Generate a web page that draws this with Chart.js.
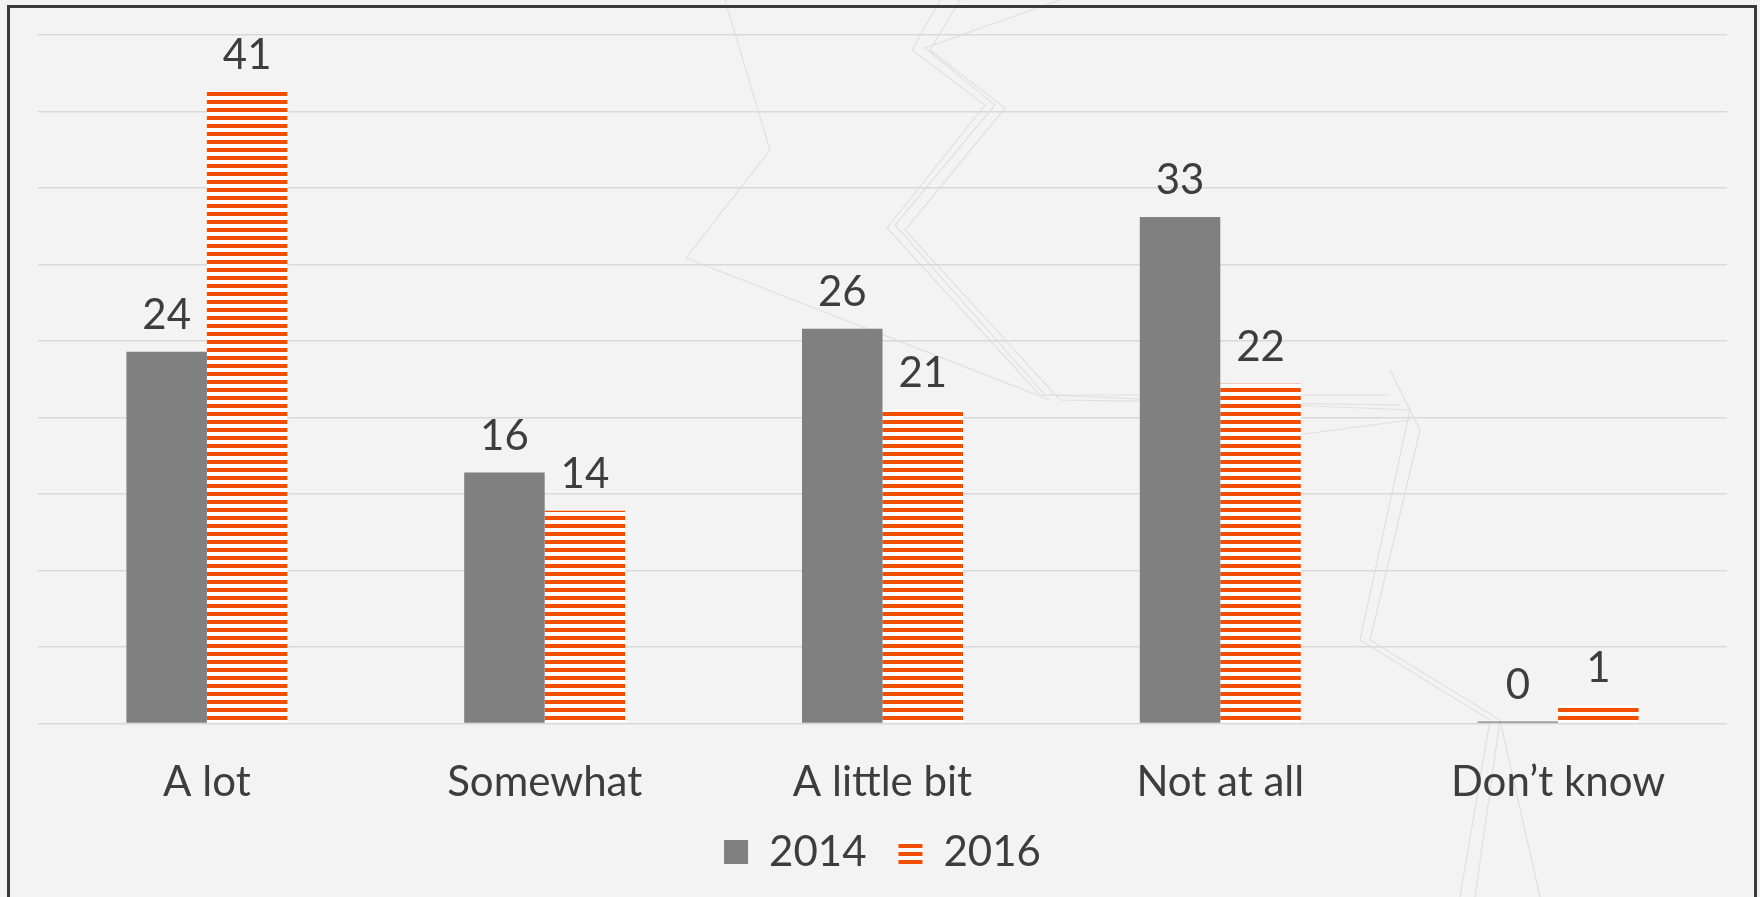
<!DOCTYPE html>
<html><head><meta charset="utf-8">
<script src="https://cdn.jsdelivr.net/npm/chart.js@4.4.0/dist/chart.umd.min.js"></script>
<style>
html,body{margin:0;padding:0;background:#f3f3f3;width:1760px;height:897px;overflow:hidden}
#deco{position:absolute;left:0;top:0}
#frame{position:absolute;left:7px;top:5px;width:1750px;height:1000px;border:3px solid #3a3a3a;box-sizing:border-box}
#wrap{position:absolute;left:0;top:0;width:1760px;height:897px}
</style></head><body>
<svg id="deco" width="1760" height="897" fill="none" stroke="#e0e0e0" stroke-width="1.2">
<polyline points="725,0 770,150 686,258 1050,400"/>
<polyline points="940,0 912,50 985,105 887,228 1040,395 1390,395"/>
<polyline points="960,0 930,50 1005,108 905,230 1060,400 1400,405"/>
<polyline points="1060,0 925,48 995,105 895,225 1045,395 1410,410 1360,640 1490,720 1460,897"/>
<polyline points="1390,370 1420,430 1370,640 1500,720 1475,897"/>
<polyline points="1260,440 1410,420"/>
<polyline points="1500,720 1540,897"/>
</svg>
<div id="frame"></div>
<div id="wrap"><canvas id="c" width="1760" height="897"></canvas></div>
<script>
const categories = ["A lot", "Somewhat", "A little bit", "Not at all", "Don\u2019t know"];
const series2014 = [24.3, 16.4, 25.8, 33.1, 0];
const series2016 = [41.3, 13.9, 20.5, 22.2, 1.2];
const labels2014 = ["24", "16", "26", "33", "0"];
const labels2016 = ["41", "14", "21", "22", "1"];
const seriesNames = ["2014", "2016"];
const yTicks = [0, 5, 10, 15, 20, 25, 30, 35, 40, 45];

const GRAY = "#808080";
const ORANGE = "#F24E00";
const TEXT = "#3d3d3d";
const FONT = "Lato";

function stripePattern() {
  const p = document.createElement("canvas");
  p.width = 8; p.height = 8;
  const g = p.getContext("2d");
  g.fillStyle = "#ffffff"; g.fillRect(0, 0, 8, 8);
  g.fillStyle = ORANGE; g.fillRect(0, 4, 8, 4);
  return document.getElementById("c").getContext("2d").createPattern(p, "repeat");
}
const pattern = stripePattern();

const valueLabels = {
  id: "valueLabels",
  afterDatasetsDraw(chart) {
    const ctx = chart.ctx;
    const lbls = [labels2014, labels2016];
    ctx.save();
    ctx.font = "42px " + FONT;
    ctx.fillStyle = TEXT;
    ctx.textAlign = "center";
    ctx.textBaseline = "alphabetic";
    chart.data.datasets.forEach((ds, di) => {
      chart.getDatasetMeta(di).data.forEach((bar, i) => {
        ctx.fillText(lbls[di][i], bar.x, bar.y - 23);
      });
    });
    ctx.restore();
  }
};

new Chart(document.getElementById("c"), {
  type: "bar",
  data: {
    labels: categories,
    datasets: [
      { label: seriesNames[0], data: series2014, backgroundColor: GRAY, borderWidth: 0, minBarLength: 2 },
      { label: seriesNames[1], data: series2016, backgroundColor: pattern, borderWidth: 0 }
    ]
  },
  options: {
    responsive: false,
    devicePixelRatio: 1,
    animation: false,
    categoryPercentage: 0.4766,
    barPercentage: 1,
    layout: { padding: { left: 38, right: 33, top: 35, bottom: 14 } },
    plugins: {
      legend: {
        position: "bottom",
        labels: { font: { family: FONT, size: 42 }, color: TEXT, boxWidth: 24, boxHeight: 24, padding: 32 }
      },
      tooltip: { enabled: false }
    },
    scales: {
      x: {
        grid: { display: false, drawTicks: false },
        border: { display: false },
        ticks: { font: { family: FONT, size: 42 }, color: TEXT, padding: 33.8, maxRotation: 0, autoSkip: false },
        afterFit(s) { s.height -= 42.5; }
      },
      y: {
        min: yTicks[0], max: yTicks[yTicks.length - 1],
        afterBuildTicks(s) { s.ticks = yTicks.map(v => ({ value: v })); },
        ticks: { display: false },
        grid: { color: "#d9d9d9", lineWidth: 1.5, drawTicks: false },
        border: { display: false }
      }
    }
  },
  plugins: [valueLabels]
});
</script>
</body></html>
